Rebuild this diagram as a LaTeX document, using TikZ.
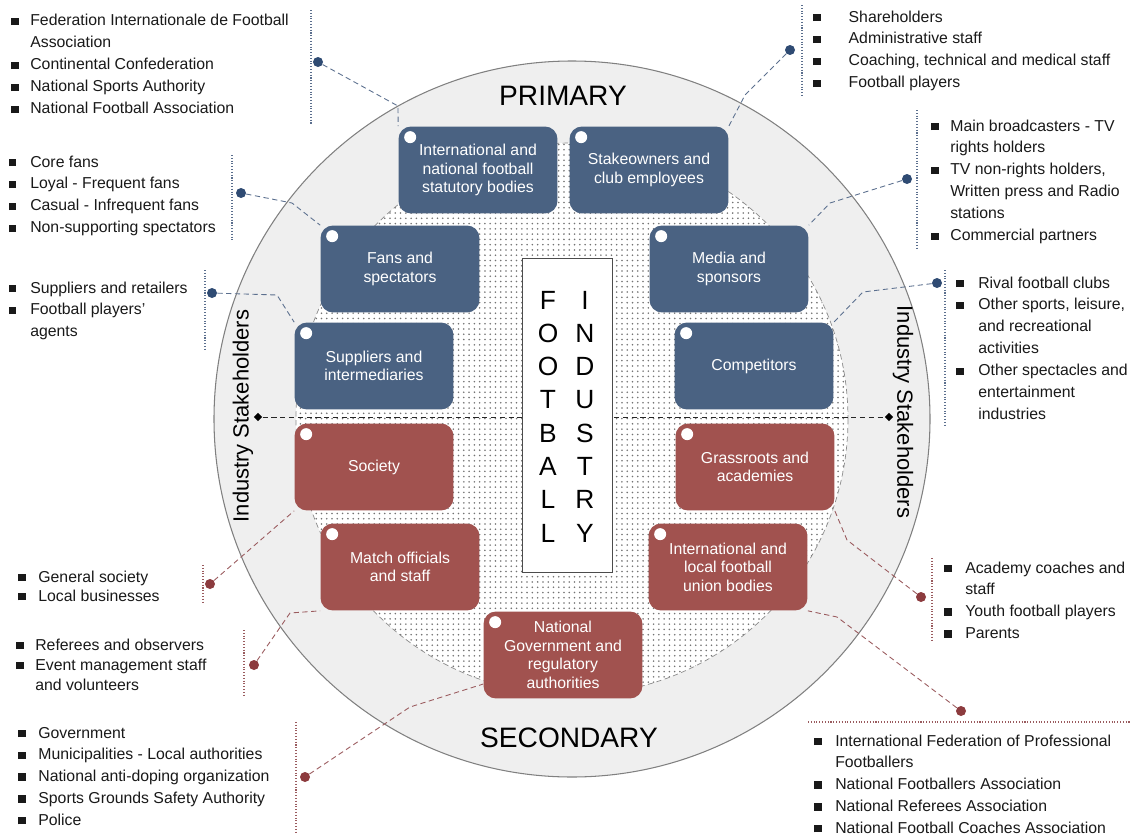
\documentclass[tikz,border=0pt]{standalone}
\usepackage{fontspec}
\setmainfont{Liberation Sans}
\usetikzlibrary{positioning,shapes.geometric,patterns,calc}

\definecolor{stkblue}{HTML}{4A6282}
\definecolor{stkred}{HTML}{A1524F}
\definecolor{ringgray}{HTML}{EFEFEF}
\definecolor{pinblue}{HTML}{2F4B73}
\definecolor{pinred}{HTML}{8C3B3E}
\definecolor{lnkblue}{HTML}{5B6F8E}
\definecolor{lnkred}{HTML}{9A5B5E}

\newcommand{\bsq}{\rule[0.1ex]{4.2pt}{4.2pt}}
\newcommand{\blist}[2]{\begin{tabular}[t]{@{}l@{\hspace{#1}}l@{}}#2\end{tabular}}

\tikzset{
	grp/.style={rounded corners=0.25cm, minimum width=3.18cm, minimum height=1.74cm, align=center, text=white, inner sep=2pt, font=\fontsize{9}{10.5}\selectfont},
	prim/.style={grp, fill=stkblue},
	sec/.style={grp, fill=stkred},
	lst/.style={anchor=base west, inner sep=0pt, font=\fontsize{9}{12.5}\selectfont, text=black!90},
	pinb/.style={circle, fill=pinblue, inner sep=0pt, minimum size=0.2cm},
	pinr/.style={circle, fill=pinred, inner sep=0pt, minimum size=0.2cm},
	lnkb/.style={densely dashed, lnkblue, line width=0.5pt},
	lnkr/.style={densely dashed, lnkred, line width=0.5pt},
	barb/.style={densely dotted, lnkblue, line width=0.6pt},
	barr/.style={densely dotted, lnkred, line width=0.6pt},
	ltr/.style={inner sep=0pt, font=\fontsize{15}{15}\selectfont},
	tip/.style={diamond, fill=black, inner sep=0pt, minimum size=0.17cm},
	side/.style={inner sep=0pt, font=\fontsize{12.5}{15}\selectfont}
}

\begin{document}
\begin{tikzpicture}[x=0.02cm,y=-0.02cm]
	\useasboundingbox (0,0) rectangle (1133,835);
	%Rings
	\draw[fill=ringgray, draw=black!50, line width=0.6pt] (572,419) circle (358);
	\fill[white] (572,419) circle (276);
	\fill[pattern=dots, pattern color=black!55] (572,419) circle (276);
	\draw[densely dashed, black!45, line width=0.4pt] (572,419) circle (276);
	%Axis
	\node[tip] (dl) at (258,417) {};
	\node[tip] (dr) at (889,417) {};
	\draw[densely dashed, black!85, line width=0.5pt] (dl) -- (dr);
	%Core
	\node[draw=black!70, fill=white, minimum width=1.8cm, minimum height=6.28cm, line width=0.5pt] (core) at (567,415) {};
	\foreach \l [count=\i] in {F,O,O,T,B,A,L,L}
		\node[ltr] (fl\i) at (548,{300+33.3*(\i-1)}) {\l};
	\foreach \l [count=\i] in {I,N,D,U,S,T,R,Y}
		\node[ltr] (il\i) at (585,{300+33.3*(\i-1)}) {\l};
	%Primary stakeholders
	\node[prim] (stat) at (478,170) {International and\\national football\\statutory bodies};
	\node[prim] (stake) at (649,170) {Stakeowners and\\club employees};
	\node[prim] (fans) at (400,269) {Fans and\\spectators};
	\node[prim] (media) at (729,269) {Media and\\sponsors};
	\node[prim] (suppl) at (374,366) {Suppliers and\\intermediaries};
	\node[prim] (comp) at (754,366) {Competitors};
	%Secondary stakeholders
	\node[sec] (society) at (374,467) {Society};
	\node[sec] (grass) at (755,467) {Grassroots and\\academies};
	\node[sec] (match) at (400,567) {Match officials\\and staff};
	\node[sec] (union) at (728,567) {International and\\local football\\union bodies};
	\node[sec] (govt) at (563,655) {National\\Government and\\regulatory\\authorities};
	\foreach \b in {stat,stake,fans,media,suppl,comp,society,grass,match,union,govt}
		\fill[white] ($(\b.north west)+(12,11)$) circle (6);
	%Titles
	\node[font=\fontsize{16}{18}\selectfont] (primary) at (563,96) {PRIMARY};
	\node[font=\fontsize{16}{18}\selectfont] (secondary) at (569,738) {SECONDARY};
	\node[side, rotate=90] (indl) at (243,416) {Industry Stakeholders};
	\node[side, rotate=-90] (indr) at (903,412) {Industry Stakeholders};
	%Lists
	\node[lst] (ltl) at (11,26) {\blist{6.6pt}{\bsq & Federation Internationale de Football\\ & Association\\ \bsq & Continental Confederation\\ \bsq & National Sports Authority\\ \bsq & National Football Association}};
	\node[lst] (ltr) at (813,22) {\blist{15.9pt}{\bsq & Shareholders\\ \bsq & Administrative staff\\ \bsq & Coaching, technical and medical staff\\ \bsq & Football players}};
	\node[lst] (lfans) at (8.5,167) {\blist{8pt}{\bsq & Core fans\\ \bsq & Loyal - Frequent fans\\ \bsq & Casual - Infrequent fans\\ \bsq & Non-supporting spectators}};
	\node[lst] (lsuppl) at (8.5,293) {\blist{8pt}{\bsq & Suppliers and retailers\\ \bsq & Football players'\\ & agents}};
	\node[lst] (lmedia) at (931,131) {\blist{6.6pt}{\bsq & Main broadcasters - TV\\ & rights holders\\ \bsq & TV non-rights holders,\\ & Written press and Radio\\ & stations\\ \bsq & Commercial partners}};
	\node[lst] (lcomp) at (956,288) {\blist{8.3pt}{\bsq & Rival football clubs\\ \bsq & Other sports, leisure,\\ & and recreational\\ & activities\\ \bsq & Other spectacles and\\ & entertainment\\ & industries}};
	\node[lst, font=\fontsize{9}{11}\selectfont] (lsociety) at (18,582) {\blist{7.2pt}{\bsq & General society\\ \bsq & Local businesses}};
	\node[lst, font=\fontsize{9}{11.4}\selectfont] (lmatch) at (16,650) {\blist{6.6pt}{\bsq & Referees and observers\\ \bsq & Event management staff\\ & and volunteers}};
	\node[lst, font=\fontsize{9}{12.4}\selectfont] (lgovt) at (18,738) {\blist{7.2pt}{\bsq & Government\\ \bsq & Municipalities - Local authorities\\ \bsq & National anti-doping organization\\ \bsq & Sports Grounds Safety Authority\\ \bsq & Police}};
	\node[lst, font=\fontsize{9}{12.4}\selectfont] (lgrass) at (944,573) {\blist{7.7pt}{\bsq & Academy coaches and\\ & staff\\ \bsq & Youth football players\\ \bsq & Parents}};
	\node[lst, font=\fontsize{9}{12.4}\selectfont] (lunion) at (814,746) {\blist{7.7pt}{\bsq & International Federation of Professional\\ & Footballers\\ \bsq & National Footballers Association\\ \bsq & National Referees Association\\ \bsq & National Football Coaches Association}};
	%Bars
	\draw[barb] (311,10) -- (311,125);
	\draw[barb] (802,5) -- (802,95);
	\draw[barb] (232,155) -- (232,242);
	\draw[barb] (205,270) -- (205,350);
	\draw[barb] (917,110) -- (917,248);
	\draw[barb] (945,270) -- (945,425);
	\draw[barr] (203,565) -- (203,604);
	\draw[barr] (244,630) -- (244,697);
	\draw[barr] (296,722) -- (296,832);
	\draw[barr] (932,558) -- (932,642);
	\draw[barr] (808,722) -- (1130,722);
	%Pins
	\node[pinb] (p1) at (318,62) {};
	\node[pinb] (p2) at (790,50) {};
	\node[pinb] (p3) at (241,193) {};
	\node[pinb] (p4) at (212,293) {};
	\node[pinb] (p5) at (907,179) {};
	\node[pinb] (p6) at (937,283) {};
	\node[pinr] (p7) at (210,584) {};
	\node[pinr] (p8) at (254,665) {};
	\node[pinr] (p9) at (305,777) {};
	\node[pinr] (p10) at (921,597) {};
	\node[pinr] (p11) at (961,711) {};
	%Links
	\draw[lnkb] (p1) -- (398,106) -- (stat.north west);
	\draw[lnkb] (p2) -- (745,95) -- (stake.north east);
	\draw[lnkb] (p3) -- (292,203) -- (fans.north west);
	\draw[lnkb] (p4) -- (277,295) -- (suppl.north west);
	\draw[lnkb] (p5) -- (830,203) -- (media.north east);
	\draw[lnkb] (p6) -- (863,292) -- (comp.north east);
	\draw[lnkr] (p7) -- (society.south west);
	\draw[lnkr] (p8) -- (290,613) -- (match.south west);
	\draw[lnkr] (p9) -- (410,707) -- (govt.200);
	\draw[lnkr] (p10) -- (847,540) -- (grass.south east);
	\draw[lnkr] (p11) -- (837,617) -- (union.south east);
\end{tikzpicture}
\end{document}
